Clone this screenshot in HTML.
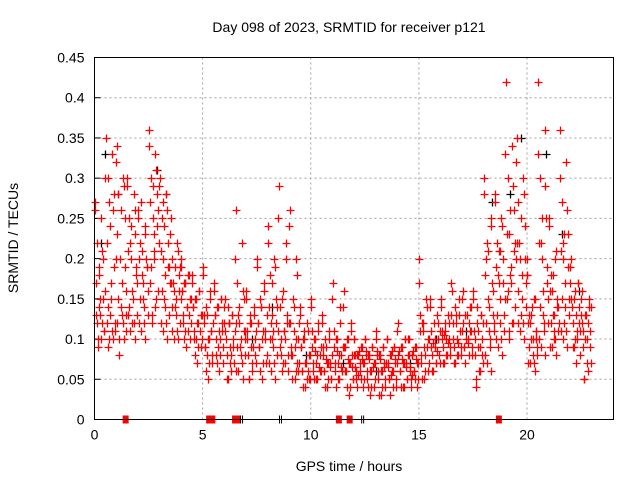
<!DOCTYPE html>
<html><head><meta charset="utf-8"><style>
body{margin:0;background:#fff}
svg{display:block;font-family:"Liberation Sans",sans-serif}
</style></head><body>
<svg id="c" width="640" height="480">
<text x="349" y="32" font-size="14" text-anchor="middle">Day 098 of 2023, SRMTID for receiver p121</text>
<text x="349" y="471" font-size="14" text-anchor="middle">GPS time / hours</text>
<text transform="translate(18,238) rotate(-90)" font-size="14" text-anchor="middle">SRMTID / TECUs</text>
<g id="grid"></g><g id="ticks"></g><g id="marks"></g>
<rect x="94.5" y="57.5" width="519" height="362" fill="none" stroke="#000"/>
</svg>
<script>
const xTicks=[0,5,10,15,20];
const yTicks=[0,0.05,0.1,0.15,0.2,0.25,0.3,0.35,0.4,0.45];
const yTickLabels=["0","0.05","0.1","0.15","0.2","0.25","0.3","0.35","0.4","0.45"];
const binStart=[0,0.5,1,1.5,2,2.5,3,3.5,4,4.5,5,5.5,6,6.5,7,7.5,8,8.5,9,9.5,10,10.5,11,11.5,12,12.5,13,13.5,14,14.5,15,15.5,16,16.5,17,17.5,18,18.5,19,19.5,20,20.5,21,21.5,22,22.5];
const redValues=[
[0.27,0.25,0.22,0.2,0.18,0.16,0.15,0.13,0.12,0.1,0.11,0.14],
[0.35,0.33,0.3,0.28,0.27,0.2,0.15,0.12,0.1,0.09,0.11,0.13],
[0.34,0.3,0.28,0.25,0.2,0.16,0.13,0.12,0.1,0.08,0.11,0.14],
[0.3,0.28,0.25,0.23,0.2,0.17,0.15,0.13,0.1,0.22,0.18,0.12],
[0.26,0.24,0.22,0.2,0.18,0.16,0.14,0.12,0.1,0.27,0.19,0.15],
[0.36,0.33,0.3,0.28,0.25,0.22,0.2,0.17,0.15,0.12,0.26,0.23],
[0.3,0.28,0.25,0.22,0.2,0.17,0.14,0.12,0.1,0.27,0.19,0.15],
[0.25,0.22,0.2,0.18,0.16,0.15,0.13,0.11,0.1,0.17,0.19,0.14],
[0.2,0.18,0.17,0.15,0.14,0.12,0.1,0.09,0.16,0.13,0.11],
[0.18,0.16,0.15,0.13,0.12,0.1,0.09,0.07,0.14,0.11,0.1],
[0.19,0.16,0.14,0.12,0.1,0.09,0.07,0.05,0.13,0.11,0.08],
[0.17,0.15,0.14,0.12,0.1,0.08,0.07,0.06,0.13,0.11,0.09],
[0.15,0.13,0.12,0.1,0.09,0.07,0.05,0.11,0.08,0.14],
[0.26,0.22,0.17,0.15,0.12,0.1,0.08,0.06,0.05,0.13,0.11,0.09],
[0.16,0.14,0.12,0.1,0.08,0.07,0.05,0.11,0.09,0.13],
[0.2,0.17,0.15,0.13,0.11,0.09,0.07,0.05,0.12,0.1,0.14],
[0.24,0.2,0.18,0.15,0.13,0.11,0.09,0.07,0.05,0.12,0.14,0.1],
[0.29,0.22,0.15,0.12,0.1,0.08,0.06,0.11,0.09,0.13,0.07],
[0.26,0.2,0.15,0.12,0.1,0.08,0.06,0.05,0.09,0.07,0.11],
[0.14,0.12,0.1,0.08,0.07,0.06,0.05,0.04,0.09,0.06,0.11],
[0.15,0.12,0.1,0.09,0.08,0.07,0.06,0.05,0.11,0.065,0.085],
[0.13,0.11,0.1,0.08,0.07,0.06,0.05,0.04,0.09,0.065,0.075],
[0.17,0.14,0.1,0.09,0.08,0.07,0.06,0.05,0.11,0.065,0.085],
[0.16,0.12,0.1,0.08,0.07,0.06,0.05,0.03,0.09,0.065,0.075],
[0.1,0.09,0.08,0.07,0.06,0.05,0.04,0.085,0.065,0.075,0.055],
[0.1,0.09,0.08,0.07,0.06,0.05,0.04,0.03,0.085,0.065,0.075],
[0.11,0.09,0.08,0.07,0.06,0.05,0.04,0.03,0.085,0.065,0.075],
[0.1,0.09,0.08,0.07,0.06,0.05,0.04,0.085,0.065,0.075,0.055],
[0.12,0.1,0.09,0.08,0.07,0.06,0.05,0.04,0.085,0.065,0.075],
[0.1,0.09,0.08,0.07,0.06,0.05,0.04,0.085,0.065,0.075,0.055],
[0.2,0.15,0.12,0.1,0.08,0.07,0.06,0.05,0.13,0.09,0.11],
[0.14,0.12,0.1,0.09,0.08,0.07,0.06,0.11,0.085,0.095],
[0.14,0.12,0.11,0.1,0.09,0.08,0.07,0.13,0.095,0.105],
[0.16,0.13,0.12,0.1,0.09,0.08,0.07,0.11,0.095,0.14],
[0.16,0.14,0.12,0.1,0.09,0.08,0.11,0.095,0.13],
[0.16,0.13,0.11,0.1,0.08,0.06,0.04,0.12,0.09,0.14],
[0.3,0.25,0.2,0.17,0.15,0.12,0.1,0.08,0.06,0.22,0.13,0.11],
[0.28,0.25,0.22,0.2,0.17,0.15,0.12,0.1,0.08,0.18,0.13,0.21],
[0.42,0.34,0.3,0.26,0.23,0.2,0.17,0.15,0.12,0.1,0.22,0.18],
[0.35,0.3,0.27,0.24,0.2,0.18,0.15,0.12,0.1,0.22,0.17,0.13],
[0.2,0.15,0.13,0.11,0.1,0.09,0.08,0.07,0.06,0.12,0.1,0.14],
[0.42,0.36,0.3,0.25,0.2,0.15,0.12,0.1,0.08,0.22,0.17,0.13],
[0.25,0.2,0.18,0.15,0.13,0.12,0.1,0.09,0.08,0.16,0.14,0.11],
[0.36,0.32,0.27,0.23,0.2,0.17,0.14,0.11,0.09,0.22,0.15,0.12],
[0.2,0.17,0.15,0.13,0.11,0.09,0.08,0.07,0.14,0.12,0.1],
[0.16,0.15,0.13,0.11,0.09,0.07,0.05,0.14,0.12,0.1]
];
const redValuesB=[
[0.26,0.21,0.19,0.17,0.15,0.13,0.12,0.11,0.1,0.09],
[0.3,0.26,0.24,0.22,0.19,0.17,0.14,0.12,0.11,0.1],
[0.32,0.29,0.26,0.23,0.19,0.17,0.15,0.13,0.12,0.1],
[0.29,0.26,0.24,0.21,0.19,0.16,0.14,0.13,0.12,0.11],
[0.25,0.23,0.21,0.2,0.19,0.17,0.15,0.13,0.12,0.11],
[0.34,0.31,0.29,0.27,0.24,0.21,0.19,0.16,0.14,0.13],
[0.29,0.26,0.24,0.21,0.19,0.18,0.16,0.13,0.12,0.11],
[0.23,0.21,0.19,0.17,0.16,0.15,0.14,0.12,0.11,0.1],
[0.19,0.18,0.17,0.16,0.15,0.14,0.13,0.12,0.11,0.1],
[0.17,0.16,0.15,0.14,0.13,0.12,0.11,0.1,0.09,0.08],
[0.18,0.15,0.13,0.12,0.11,0.1,0.09,0.08,0.07,0.06],
[0.16,0.15,0.14,0.13,0.12,0.11,0.1,0.09,0.08,0.07],
[0.14,0.13,0.12,0.11,0.1,0.09,0.08,0.07,0.06,0.05],
[0.2,0.16,0.14,0.12,0.11,0.1,0.09,0.08,0.07,0.06],
[0.15,0.13,0.12,0.11,0.1,0.09,0.08,0.07,0.06,0.05],
[0.19,0.16,0.14,0.12,0.11,0.1,0.09,0.08,0.07,0.06],
[0.22,0.19,0.17,0.14,0.12,0.11,0.1,0.08,0.07,0.06],
[0.25,0.2,0.16,0.14,0.12,0.11,0.1,0.08,0.07,0.06],
[0.24,0.18,0.14,0.12,0.1,0.09,0.08,0.07,0.06,0.05],
[0.13,0.11,0.1,0.09,0.08,0.07,0.06,0.05,0.05,0.04],
[0.14,0.11,0.1,0.09,0.08,0.07,0.06,0.06,0.05,0.05],
[0.12,0.1,0.09,0.08,0.07,0.07,0.06,0.05,0.05,0.04],
[0.15,0.12,0.1,0.09,0.08,0.07,0.06,0.06,0.05,0.04],
[0.14,0.11,0.1,0.09,0.08,0.07,0.06,0.05,0.04,0.04],
[0.1,0.09,0.08,0.08,0.07,0.07,0.06,0.05,0.05,0.04],
[0.1,0.09,0.08,0.08,0.07,0.06,0.06,0.05,0.04,0.04],
[0.1,0.09,0.08,0.08,0.07,0.06,0.06,0.05,0.04,0.03],
[0.1,0.09,0.08,0.07,0.07,0.06,0.05,0.05,0.04,0.03],
[0.11,0.1,0.09,0.08,0.07,0.07,0.06,0.05,0.04,0.04],
[0.1,0.09,0.08,0.08,0.07,0.06,0.06,0.05,0.05,0.04],
[0.17,0.14,0.12,0.11,0.1,0.09,0.08,0.07,0.06,0.05],
[0.15,0.13,0.12,0.11,0.1,0.09,0.08,0.07,0.07,0.06],
[0.15,0.13,0.12,0.11,0.1,0.1,0.09,0.08,0.08,0.07],
[0.17,0.15,0.13,0.12,0.11,0.1,0.09,0.08,0.08,0.07],
[0.15,0.14,0.13,0.12,0.11,0.1,0.09,0.09,0.08,0.07],
[0.15,0.13,0.12,0.11,0.1,0.09,0.08,0.07,0.06,0.05],
[0.28,0.24,0.21,0.18,0.16,0.14,0.12,0.11,0.09,0.07],
[0.27,0.24,0.21,0.19,0.17,0.15,0.13,0.11,0.1,0.09],
[0.33,0.29,0.26,0.23,0.21,0.19,0.16,0.14,0.12,0.11],
[0.32,0.28,0.25,0.22,0.2,0.18,0.16,0.14,0.12,0.11],
[0.18,0.15,0.13,0.12,0.11,0.1,0.09,0.08,0.07,0.07],
[0.33,0.29,0.25,0.22,0.19,0.16,0.14,0.12,0.11,0.09],
[0.24,0.21,0.18,0.16,0.14,0.13,0.12,0.11,0.1,0.09],
[0.3,0.26,0.23,0.21,0.19,0.17,0.15,0.13,0.11,0.1],
[0.19,0.17,0.16,0.15,0.14,0.13,0.12,0.11,0.1,0.09],
[0.15,0.14,0.13,0.12,0.11,0.1,0.09,0.07,0.06,0.05]
];
const blackTimes=[0.3,0.5,1.1,2.9,3.3,4.2,6.2,7.3,8.2,9.8,11.5,13.0,14.6,15.8,17.2,18.4,19.2,19.7,20.4,20.9,21.6,22.4];
const blackValues=[0.22,0.33,0.28,0.31,0.28,0.17,0.12,0.1,0.14,0.08,0.07,0.06,0.07,0.1,0.11,0.27,0.28,0.35,0.1,0.33,0.23,0.16];
const redZeroTimes=[1.44,5.3,5.45,6.5,6.6,11.3,11.8,18.7];
const blackZeroTimes=[6.8,8.6,12.4];

const L=94.5,R=613.5,T=57.5,B=419.5,NS="http://www.w3.org/2000/svg";
const xs=t=>L+(t/24)*(R-L), ys=v=>B-(v/0.45)*(B-T);
const grid=document.getElementById('grid'),ticks=document.getElementById('ticks'),marks=document.getElementById('marks');
function mk(tag,attrs,parent){const e=document.createElementNS(NS,tag);for(const k in attrs)e.setAttribute(k,attrs[k]);parent.appendChild(e);return e;}
yTicks.forEach((v,i)=>{
  const y=ys(v);
  if(i>0&&i<yTicks.length-1){const g=mk('line',{x1:L,x2:R,y1:y,y2:y,stroke:'#a0a0a0','stroke-dasharray':'2,3'},grid);
  
  }
  const t=mk('text',{x:L-10,y:y+5,'font-size':14,'text-anchor':'end'},ticks);t.textContent=yTickLabels[i];
  
  
  mk('line',{x1:L,x2:L+6,y1:y,y2:y,stroke:'#000'},ticks);
});
xTicks.forEach(v=>{
  const x=xs(v);
  if(v>0){const g=mk('line',{x1:x,x2:x,y1:T,y2:B,stroke:'#a0a0a0','stroke-dasharray':'2,3'},grid);
  
  }
  const t=mk('text',{x:x,y:B+20,'font-size':14,'text-anchor':'middle'},ticks);t.textContent=v;
  
  
});
function cross(x,y,color,name){
  const p=mk('path',{d:`M${x-4},${y}h8M${x},${y-4}v8`,fill:'none'},marks);
  p.style.stroke=color;
  p.style.strokeWidth='1.3';
  
  
}
blackTimes.forEach((t,i)=>cross(Math.round(xs(t))+0.5,Math.round(ys(blackValues[i]))+0.5,'#000000','black-point'));
function drawBins(arr,phase){
  binStart.forEach((t0,i)=>{
    const vals=arr[i],n=vals.length;
    vals.forEach((v,j)=>{
      const t=t0+(((j*7)%n+phase)/n)*0.5;
      cross(Math.round(xs(t))+0.5,Math.round(ys(v))+0.5,'#ff0000','red-point');
    });
  });
}
drawBins(redValues,0.5);
drawBins(redValuesB,0.1);
redZeroTimes.forEach(t=>{
  const r=mk('rect',{x:xs(t)-3,y:B-4,width:6,height:8,fill:'#f00'},marks);
  
  
});
blackZeroTimes.forEach(t=>{
  const r=mk('path',{d:`M${xs(t)-1},${B-4}v8M${xs(t)+1},${B-4}v8`,stroke:'#000'},marks);
  
  
});
</script>
</body></html>
